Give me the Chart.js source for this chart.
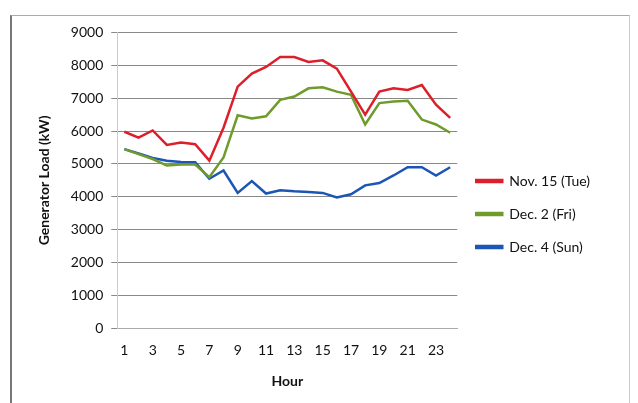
<!DOCTYPE html>
<html>
<head>
<meta charset="utf-8">
<script src="https://cdn.jsdelivr.net/npm/chart.js@4"></script>
<style>
  body { margin: 0; background: #fff; }
  #frame { position: absolute; left: 10px; top: 15px; width: 617px; height: 400px;
           border-left: 2px solid #777; border-top: 1px solid #aaa; border-right: 1px solid #ccc; }
  #wrap { position: absolute; left: 0; top: 0; width: 617px; height: 374px; }
</style>
</head>
<body>
<div id="frame"><div id="wrap"><canvas id="load-chart"></canvas></div></div>
<script>
// hours 1..24
var hours = [];
for (var h = 1; h <= 24; h++) hours.push(String(h));

var nov15 = [5980, 5800, 6020, 5580, 5650, 5600, 5100, 6100, 7350, 7750, 7950, 8250,
             8250, 8100, 8150, 7900, 7200, 6500, 7200, 7300, 7250, 7400, 6800, 6400];
var dec2 = [5450, 5300, 5150, 4950, 4980, 4980, 4600, 5200, 6480, 6380, 6450, 6950,
            7050, 7300, 7330, 7200, 7100, 6200, 6850, 6900, 6920, 6350, 6200, 5950];
var dec4 = [5450, 5320, 5180, 5100, 5060, 5050, 4550, 4800, 4120, 4480, 4100, 4200,
            4170, 4150, 4120, 3980, 4080, 4350, 4420, 4650, 4900, 4900, 4650, 4900];

var font = "Lato, 'Open Sans', sans-serif";

new Chart(document.getElementById("load-chart"), {
    type: 'line',
    data: {
        labels: hours,
        datasets: [{
            label: "Nov. 15 (Tue)",
            borderColor: "#dc1f2a",
            backgroundColor: "#dc1f2a",
            data: nov15
        }, {
            label: "Dec. 2 (Fri)",
            borderColor: "#6f9a2c",
            backgroundColor: "#6f9a2c",
            data: dec2
        }, {
            label: "Dec. 4 (Sun)",
            borderColor: "#1b55b5",
            backgroundColor: "#1b55b5",
            data: dec4
        }]
    },
    options: {
        animation: false,
        maintainAspectRatio: false,
        responsive: true,
        elements: {
            line: {borderWidth: 2.5, tension: 0},
            point: {radius: 0}
        },
        layout: {padding: {top: 8, right: 30, left: 20, bottom: 0}},
        plugins: {
            legend: {
                position: 'right',
                // empty title just pushes the items down a bit
                title: {display: true, text: ' ', font: {size: 1}, padding: {top: 0, bottom: 13}},
                labels: {
                    color: '#111',
                    font: {family: font, size: 14},
                    boxWidth: 26,
                    boxHeight: 2,
                    padding: 19
                }
            }
        },
        scales: {
            x: {
                offset: true,
                grid: {display: false, drawTicks: true},
                border: {color: '#aaa'},
                ticks: {
                    autoSkip: false,
                    maxRotation: 0,
                    padding: 6,
                    color: '#111',
                    font: {family: font, size: 14},
                    callback: function (v, i) { return i % 2 === 0 ? hours[i] : ''; }
                },
                title: {display: true, text: 'Hour', color: '#111', padding: {top: 8, bottom: 0},
                        font: {family: font, size: 14, weight: 'bold'}}
            },
            y: {
                min: 0,
                max: 9000,
                ticks: {stepSize: 1000, color: '#111', padding: 8,
                        font: {family: font, size: 14},
                        callback: function (v) { return String(v); }},
                grid: {color: '#888', tickLength: 6},
                border: {color: '#ccc'},
                title: {display: true, text: 'Generator Load (kW)', color: '#111',
                        padding: {top: 4, bottom: 10},
                        font: {family: font, size: 14, weight: 'bold'}}
            }
        }
    }
});
</script>
</body>
</html>
